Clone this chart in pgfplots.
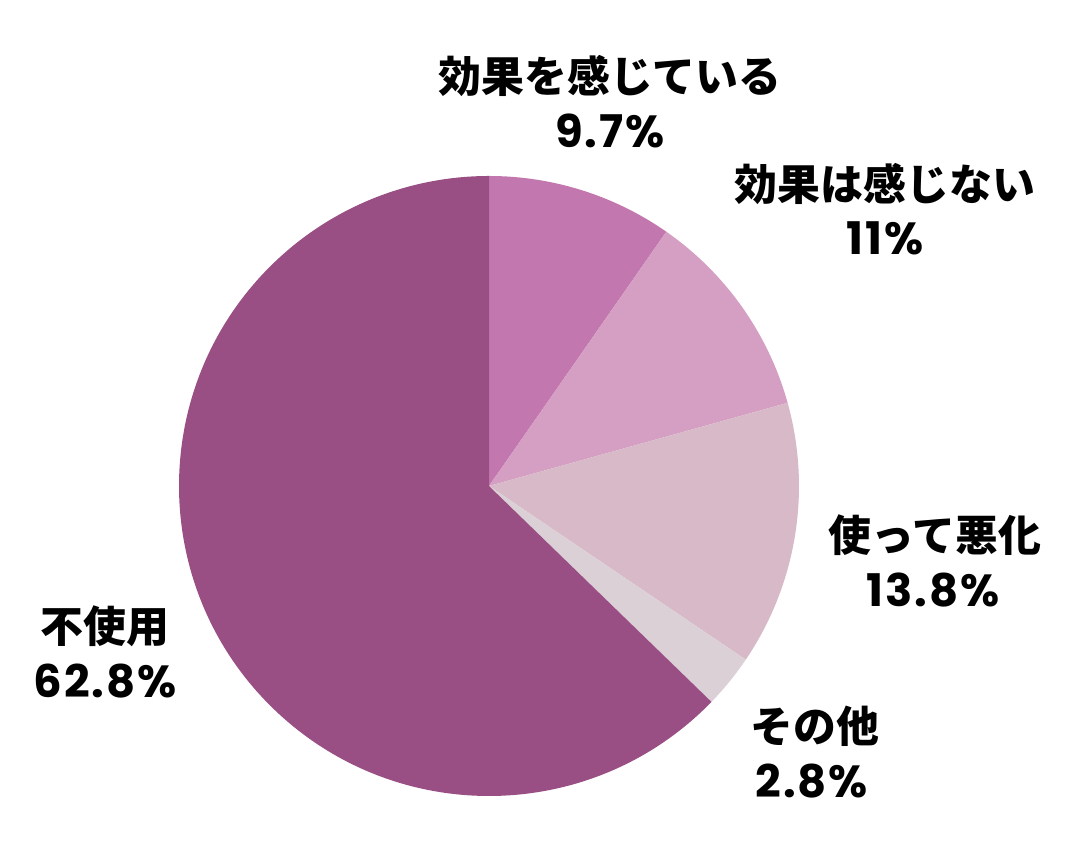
\documentclass[border=0pt]{standalone}
\usepackage{fontspec}
\usepackage{pgfplots}
\usepackage{pgfplotstable}
\pgfplotsset{compat=1.18}
\setmainfont{Noto Sans CJK JP}
\newfontfamily\numfont{Poppins}[Numbers=Monospaced, LetterSpace=4]

\definecolor{cA}{HTML}{C277AE}
\definecolor{cB}{HTML}{D59FC3}
\definecolor{cC}{HTML}{D8B9C8}
\definecolor{cD}{HTML}{DCD0D7}
\definecolor{cE}{HTML}{994E84}

% share (%) of each slice, clockwise from 12 o'clock
\pgfplotstableread{
idx pct
0 9.7
1 11.0
2 13.8
3 2.8
4 62.8
}\piedata

\begin{document}
\begin{tikzpicture}
% cumulative angles computed from the table
\gdef\total{0}
\foreach \i in {0,...,4}{
  \pgfplotstablegetelem{\i}{pct}\of\piedata
  \pgfmathparse{\total+\pgfplotsretval}
  \xdef\total{\pgfmathresult}
}
\gdef\cum{0}
\foreach \i in {0,...,4}{
  \pgfplotstablegetelem{\i}{pct}\of\piedata
  \pgfmathsetmacro{\sa}{90-(\cum/\total)*360}
  \pgfmathsetmacro{\newcum}{\cum+\pgfplotsretval}
  \pgfmathsetmacro{\ea}{90-(\newcum/\total)*360}
  \expandafter\xdef\csname sA\i\endcsname{\sa}
  \expandafter\xdef\csname eA\i\endcsname{\ea}
  \xdef\cum{\newcum}
}
\begin{axis}[
  x=1cm, y=1cm, disabledatascaling,
  xmin=-4.89, xmax=5.91, ymin=-3.78, ymax=4.86,
  hide axis, clip=false,
]
\path (axis cs:-4.89,-3.78) rectangle (axis cs:5.91,4.86);
\pgfplotsinvokeforeach{0,1,2,3,4}{
  \edef\tmp{\noexpand\fill[\ifcase#1 cA\or cB\or cC\or cD\else cE\fi]
    (axis cs:0,0) -- ++(\csname sA#1\endcsname:3.1)
    arc[start angle=\csname sA#1\endcsname, end angle=\csname eA#1\endcsname, radius=3.1] -- cycle;}
  \tmp
}
\tikzset{jp/.style={font=\fontsize{12.2}{14}\selectfont\bfseries, anchor=center, inner sep=0pt},
         nm/.style={font=\numfont\fontsize{12.8}{14}\selectfont\bfseries, anchor=center, inner sep=0pt}}
\node[jp] at (axis cs:1.21,4.10) {効果を感じている};
\node[nm] at (axis cs:1.21,3.55) {9.7\%};
\node[jp] at (axis cs:3.96,3.02) {効果は感じない};
\node[nm] at (axis cs:3.96,2.48) {11\%};
\node[jp] at (axis cs:4.46,-0.49) {使って悪化};
\node[nm] at (axis cs:4.44,-1.04) {13.8\%};
\node[jp] at (axis cs:3.26,-2.40) {その他};
\node[nm] at (axis cs:3.23,-2.95) {2.8\%};
\node[jp] at (axis cs:-3.84,-1.40) {不使用};
\node[nm] at (axis cs:-3.84,-1.95) {62.8\%};
\end{axis}
\end{tikzpicture}
\end{document}
